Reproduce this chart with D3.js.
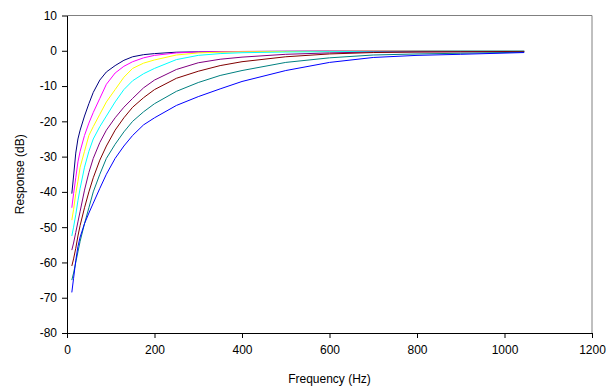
<!DOCTYPE html>
<html>
<head>
<meta charset="utf-8">
<script src="https://cdn.jsdelivr.net/npm/d3@7"></script>
<style>
  body { margin: 0; background: #fff; }
  svg text { font-family: "Liberation Sans", Arial, sans-serif; }
</style>
</head>
<body>
<svg id="chart" width="616" height="390"></svg>
<script>
// frequencies (Hz) shared by all curves
const freqs = [11, 15, 20, 25, 30, 40, 50, 60, 75, 90, 110, 130, 150, 175, 200, 250, 300, 350, 400, 500, 600, 700, 800, 900, 1045];

// response values (dB), one per curve
const navy    = [-40.5, -35.5, -29, -25, -22.5, -18.5, -15, -11.8, -8.3, -6, -4.2, -2.7, -1.7, -1.1, -0.8, -0.4, -0.3, -0.25, -0.2, -0.15, -0.1, -0.1, -0.1, -0.1, -0.1];
const magenta = [-44.5, -40.5, -36, -31.5, -28.5, -24, -20.5, -17.5, -13.5, -9.5, -6.3, -4.4, -3.1, -2, -1.3, -0.6, -0.35, -0.25, -0.2, -0.15, -0.1, -0.1, -0.1, -0.1, -0.1];
const yellow  = [-48, -45, -40.5, -37, -33, -28.5, -24, -21.5, -18, -14.5, -11, -7.5, -5, -3.5, -2.6, -1.2, -0.6, -0.4, -0.3, -0.2, -0.15, -0.1, -0.1, -0.1, -0.1];
const cyan    = [-52.5, -50, -46.5, -42.5, -39, -33, -28.5, -25, -21.5, -18.5, -14.5, -11, -8.5, -6.5, -5, -2.5, -1.3, -0.8, -0.55, -0.35, -0.25, -0.2, -0.15, -0.1, -0.1];
const purple  = [-56.5, -54.5, -51.5, -48.5, -45.5, -39.5, -34.5, -30.5, -26, -22.5, -19, -16, -13.5, -10.5, -8.3, -5.3, -3.4, -2.4, -1.8, -1, -0.6, -0.35, -0.3, -0.25, -0.2];
const maroon  = [-61, -59, -56, -52.5, -49.5, -44.5, -40, -36, -31, -27, -22.5, -19, -16, -13.3, -11, -7.8, -5.8, -4.2, -3.1, -1.7, -0.9, -0.5, -0.35, -0.3, -0.2];
const teal    = [-65, -63, -60, -57, -54, -49, -44.5, -40, -35, -30.5, -26.5, -23, -20, -17.3, -15, -11.5, -9, -7, -5.6, -3.3, -2, -1.2, -0.9, -0.7, -0.4];
const blue    = [-68.5, -64.5, -59.5, -55.5, -52.8, -49, -46, -43.2, -39, -35, -30.5, -27, -24, -21, -19, -15.5, -13, -10.8, -8.7, -5.6, -3.3, -1.9, -1.3, -1, -0.5];

const seriesList = [navy, magenta, yellow, cyan, purple, maroon, teal, blue];
const seriesColors = ["#000080", "#ff00ff", "#ffff00", "#00ffff", "#800080", "#800000", "#008080", "#0000ff"];

const xTicks = [0, 200, 400, 600, 800, 1000, 1200];
const yTicks = [10, 0, -10, -20, -30, -40, -50, -60, -70, -80];

const svg = d3.select("#chart");
const plotLeft = 67, plotRight = 592, plotTop = 15.5, plotBottom = 333;

const x = d3.scaleLinear().domain([0, 1200]).range([plotLeft, plotRight]);
const y = d3.scaleLinear().domain([-80, 10]).range([plotBottom, plotTop]);

// plot area border (top and right in grey)
svg.append("path")
  .attr("d", `M${plotLeft},${plotTop}H${plotRight}V${plotBottom}`)
  .attr("fill", "none")
  .attr("stroke", "#808080")
  .attr("stroke-width", 1);

// curves
const line = d3.line().x((d, i) => x(freqs[i])).y(d => y(d));
svg.append("g")
  .selectAll("path")
  .data(seriesList)
  .join("path")
  .attr("d", d => line(d))
  .attr("fill", "none")
  .attr("stroke", (d, i) => seriesColors[i])
  .attr("stroke-width", 1);

// axes (plain hyphen minus, no thousands separator, like the original)
const plain = d => String(d);
const xAxis = svg.append("g")
  .attr("transform", `translate(0,${plotBottom})`)
  .call(d3.axisBottom(x).tickValues(xTicks).tickFormat(plain).tickSize(5).tickPadding(7).tickSizeOuter(0));
const yAxis = svg.append("g")
  .attr("transform", `translate(${plotLeft},0)`)
  .call(d3.axisLeft(y).tickValues(yTicks).tickFormat(plain).tickSize(5).tickPadding(5).tickSizeOuter(0));

[xAxis, yAxis].forEach(g => {
  g.select(".domain").attr("stroke", "#000");
  g.selectAll(".tick line").attr("stroke", "#000");
  g.selectAll("text").attr("font-size", 12).attr("fill", "#000")
    .style("font-family", "'Liberation Sans', Arial, sans-serif");
});

// axis titles
svg.append("text")
  .attr("x", (plotLeft + plotRight) / 2)
  .attr("y", 383)
  .attr("text-anchor", "middle")
  .attr("font-size", 12)
  .text("Frequency (Hz)");

svg.append("text")
  .attr("transform", `translate(24,${(plotTop + plotBottom) / 2}) rotate(-90)`)
  .attr("text-anchor", "middle")
  .attr("font-size", 12)
  .text("Response (dB)");
</script>
</body>
</html>
